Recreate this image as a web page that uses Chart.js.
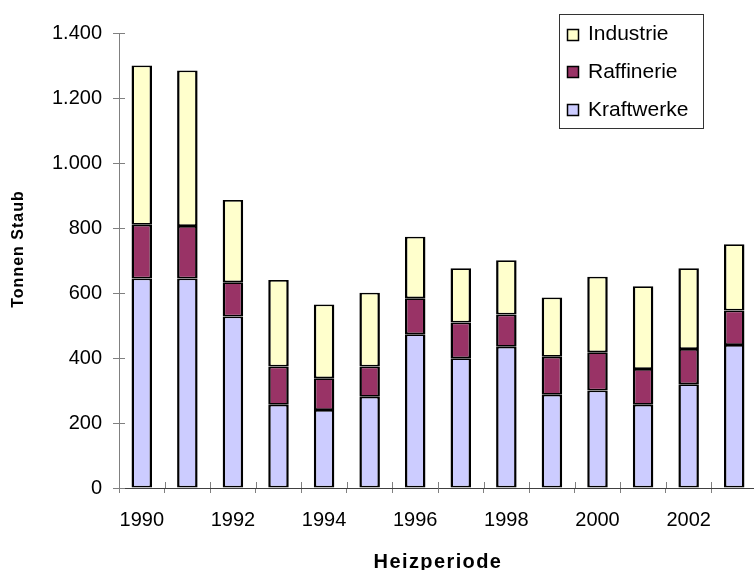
<!DOCTYPE html>
<html>
<head>
<meta charset="utf-8">
<script src="https://cdn.jsdelivr.net/npm/chart.js@4/dist/chart.umd.min.js"></script>
<style>
  html, body { margin: 0; padding: 0; background: #fff; overflow: hidden; }
  canvas { display: block; }
</style>
</head>
<body>
<canvas id="staub" width="757" height="570"></canvas>
<script>
// Staubemissionen je Heizperiode (Tonnen)
const years      = ['1990','1991','1992','1993','1994','1995','1996','1997','1998','1999','2000','2001','2002','2003'];
const kraftwerke = [645, 645, 528, 256, 240, 281, 473, 399, 435, 287, 300, 256, 319, 440];
const raffinerie = [165, 161, 105, 118,  98,  93, 111, 110,  99, 117, 118, 110, 109, 106];
const industrie  = [490, 479, 253, 266, 227, 227, 189, 167, 167, 182, 232, 255, 248, 204];

const seriesNames  = ['Kraftwerke', 'Raffinerie', 'Industrie'];
const seriesColors = ['#CCCCFF', '#993366', '#FFFFCC'];

const yTitle = 'Tonnen Staub';
const xTitle = 'Heizperiode';

const FONT = "Arial, 'Liberation Sans', sans-serif";
const AXIS_GREY = '#808080';

// German thousands separator: 1400 -> "1.400"
function fmtDe(v) {
  return String(v).replace(/\B(?=(\d{3})+(?!\d))/g, '.');
}

// tick marks that cross the axis: draw the inner half
const crossTicks = {
  id: 'crossTicks',
  afterDatasetsDraw(chart) {
    const { ctx, chartArea, scales: { x, y } } = chart;
    ctx.save();
    ctx.strokeStyle = AXIS_GREY;
    ctx.lineWidth = 1;
    ctx.beginPath();
    y.ticks.forEach((t, i) => {
      const py = Math.round(y.getPixelForTick(i)) + 0.5;
      ctx.moveTo(chartArea.left, py);
      ctx.lineTo(chartArea.left + 6, py);
    });
    for (let i = 1; i < years.length; i++) {
      const px = Math.round(x.getPixelForValue(i - 0.5)) + 0.5;
      ctx.moveTo(px, chartArea.bottom);
      ctx.lineTo(px, chartArea.bottom - 6);
    }
    ctx.stroke();
    ctx.restore();
  }
};

// axis titles, slightly letter-spaced
const axisTitles = {
  id: 'axisTitles',
  afterDraw(chart) {
    const { ctx, chartArea } = chart;
    ctx.save();
    ctx.fillStyle = '#000';
    ctx.textAlign = 'center';
    ctx.textBaseline = 'alphabetic';

    ctx.font = 'bold 20px ' + FONT;
    if ('letterSpacing' in ctx) ctx.letterSpacing = '1.4px';
    ctx.fillText(xTitle, (chartArea.left + chartArea.right) / 2, 568);

    ctx.translate(23, 249);
    ctx.rotate(-Math.PI / 2);
    ctx.font = 'bold 16px ' + FONT;
    if ('letterSpacing' in ctx) ctx.letterSpacing = '1px';
    ctx.fillText(yTitle, 0, 0);
    ctx.restore();
  }
};

// boxed legend in the upper right, top series first
const boxLegend = {
  id: 'boxLegend',
  afterDraw(chart) {
    const { ctx } = chart;
    const box = { x: 559.5, y: 14.5, w: 144, h: 114 };
    ctx.save();
    ctx.fillStyle = '#fff';
    ctx.fillRect(box.x, box.y, box.w, box.h);
    ctx.strokeStyle = '#333';
    ctx.lineWidth = 1;
    ctx.strokeRect(box.x, box.y, box.w, box.h);
    ctx.font = '21px ' + FONT;
    ctx.textBaseline = 'middle';
    ctx.textAlign = 'left';
    const items = chart.data.datasets.slice().reverse();
    items.forEach((ds, i) => {
      const cy = 33.5 + i * 37.8;
      const sy = Math.round(cy - 5) + 0.5;
      ctx.fillStyle = ds.backgroundColor;
      ctx.fillRect(567.5, sy, 11, 11);
      ctx.strokeStyle = '#000';
      ctx.lineWidth = 1.5;
      ctx.strokeRect(567.5, sy, 11, 11);
      ctx.fillStyle = '#000';
      ctx.fillText(ds.label, 588, cy + 1);
    });
    ctx.restore();
  }
};

const seriesData = [kraftwerke, raffinerie, industrie];

new Chart(document.getElementById('staub'), {
  type: 'bar',
  data: {
    labels: years,
    datasets: seriesNames.map((name, i) => ({
      label: name,
      data: seriesData[i],
      backgroundColor: seriesColors[i],
      borderColor: '#000',
      borderWidth: { left: 2.5, right: 2.5, top: 1.75, bottom: 1.75 },
      borderSkipped: false,
      inflateAmount: 0,
      barPercentage: 0.45,
      categoryPercentage: 1.0
    }))
  },
  options: {
    responsive: false,
    animation: false,
    devicePixelRatio: 1,
    layout: { padding: { top: 33, right: 0, bottom: 0, left: 0 } },
    plugins: {
      legend: { display: false },
      tooltip: { enabled: false }
    },
    scales: {
      x: {
        stacked: true,
        grid: {
          display: true,
          drawOnChartArea: false,
          drawTicks: true,
          tickLength: 5,
          tickColor: AXIS_GREY,
          offset: true
        },
        border: { display: true, color: '#404040', width: 1 },
        ticks: {
          autoSkip: false,
          maxRotation: 0,
          padding: 15,
          color: '#000',
          font: { family: FONT, size: 20 },
          callback: function (val, idx) { return idx % 2 === 0 ? years[idx] : ''; }
        },
        afterFit: function (scale) { scale.height = 82; }
      },
      y: {
        stacked: true,
        min: 0,
        max: 1400,
        grid: {
          display: true,
          drawOnChartArea: false,
          drawTicks: true,
          tickLength: 6,
          tickColor: AXIS_GREY
        },
        border: { display: true, color: AXIS_GREY, width: 1 },
        ticks: {
          stepSize: 200,
          padding: 11,
          color: '#000',
          font: { family: FONT, size: 20 },
          callback: function (v) { return fmtDe(v); }
        },
        afterFit: function (scale) { scale.width = 119; }
      }
    }
  },
  plugins: [crossTicks, axisTitles, boxLegend]
});
</script>
</body>
</html>
